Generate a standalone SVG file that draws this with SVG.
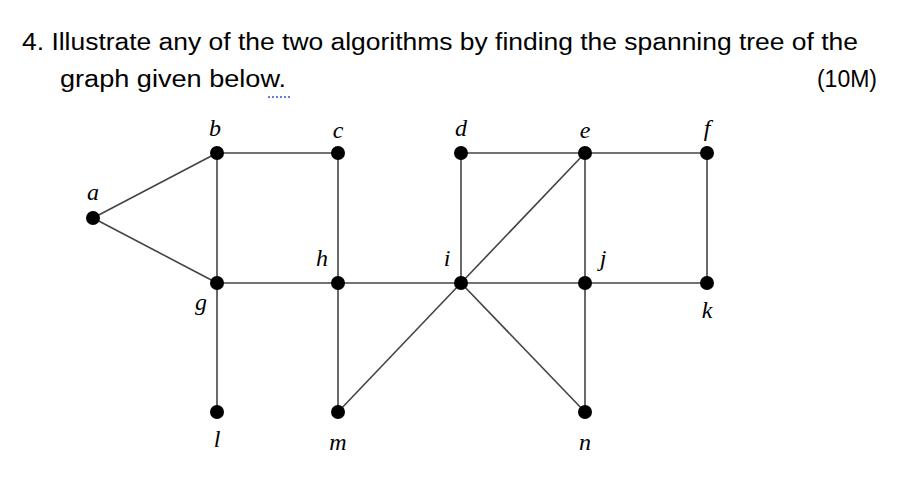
<svg xmlns="http://www.w3.org/2000/svg" width="909" height="479" viewBox="0 0 909 479">
<style>
.t{font-family:"Liberation Sans",Arial,sans-serif;font-size:23px;fill:#000}
.l{font-family:"Liberation Serif","Times New Roman",serif;font-style:italic;font-size:24px;fill:#000;text-anchor:middle}
.e line{stroke:#444;stroke-width:1.6}
circle{fill:#000}
</style>
<rect width="909" height="479" fill="#fff"/>
<text class="t" x="22" y="50" textLength="836" lengthAdjust="spacingAndGlyphs">4. Illustrate any of the two algorithms by finding the spanning tree of the</text>
<text class="t" x="60" y="87" textLength="226" lengthAdjust="spacingAndGlyphs">graph given below.</text>
<text class="t" x="877" y="87" text-anchor="end">(10M)</text>
<line x1="268" y1="97" x2="290" y2="97" stroke="#3355cc" stroke-width="1.5" stroke-dasharray="2,2"/>
<g class="e" id="connectors">
<line x1="93" y1="218" x2="217" y2="153"/><line x1="93" y1="218" x2="217" y2="283"/>
<line x1="217" y1="153" x2="338" y2="153"/><line x1="217" y1="153" x2="217" y2="283"/>
<line x1="338" y1="153" x2="338" y2="283"/><line x1="461" y1="153" x2="585" y2="153"/>
<line x1="585" y1="153" x2="707" y2="153"/><line x1="461" y1="153" x2="461" y2="283"/>
<line x1="585" y1="153" x2="461" y2="283"/><line x1="585" y1="153" x2="585" y2="283"/>
<line x1="707" y1="153" x2="707" y2="283"/><line x1="217" y1="283" x2="338" y2="283"/>
<line x1="338" y1="283" x2="461" y2="283"/><line x1="461" y1="283" x2="585" y2="283"/>
<line x1="585" y1="283" x2="707" y2="283"/><line x1="217" y1="283" x2="217" y2="412"/>
<line x1="338" y1="283" x2="338" y2="412"/><line x1="338" y1="412" x2="461" y2="283"/>
<line x1="461" y1="283" x2="585" y2="412"/><line x1="585" y1="283" x2="585" y2="412"/>
</g>
<g id="a"><circle cx="93" cy="218" r="7"/><text class="l" x="93" y="200">a</text></g>
<g id="b"><circle cx="217" cy="153" r="7"/><text class="l" x="215" y="136">b</text></g>
<g id="c"><circle cx="338" cy="153" r="7"/><text class="l" x="338" y="138">c</text></g>
<g id="d"><circle cx="461" cy="153" r="7"/><text class="l" x="461" y="136">d</text></g>
<g id="e"><circle cx="585" cy="153" r="7"/><text class="l" x="585" y="138">e</text></g>
<g id="f"><circle cx="707" cy="153" r="7"/><text class="l" x="707" y="136">f</text></g>
<g id="g"><circle cx="217" cy="283" r="7"/><text class="l" x="201" y="310">g</text></g>
<g id="h"><circle cx="338" cy="283" r="7"/><text class="l" x="322" y="266">h</text></g>
<g id="i"><circle cx="461" cy="283" r="7"/><text class="l" x="447" y="266">i</text></g>
<g id="j"><circle cx="585" cy="283" r="7"/><text class="l" x="603" y="266">j</text></g>
<g id="k"><circle cx="707" cy="283" r="7"/><text class="l" x="707" y="318">k</text></g>
<g id="l"><circle cx="217" cy="412" r="7"/><text class="l" x="217" y="447">l</text></g>
<g id="m"><circle cx="338" cy="412" r="7"/><text class="l" x="338" y="450">m</text></g>
<g id="n"><circle cx="585" cy="412" r="7"/><text class="l" x="585" y="450">n</text></g>
</svg>
